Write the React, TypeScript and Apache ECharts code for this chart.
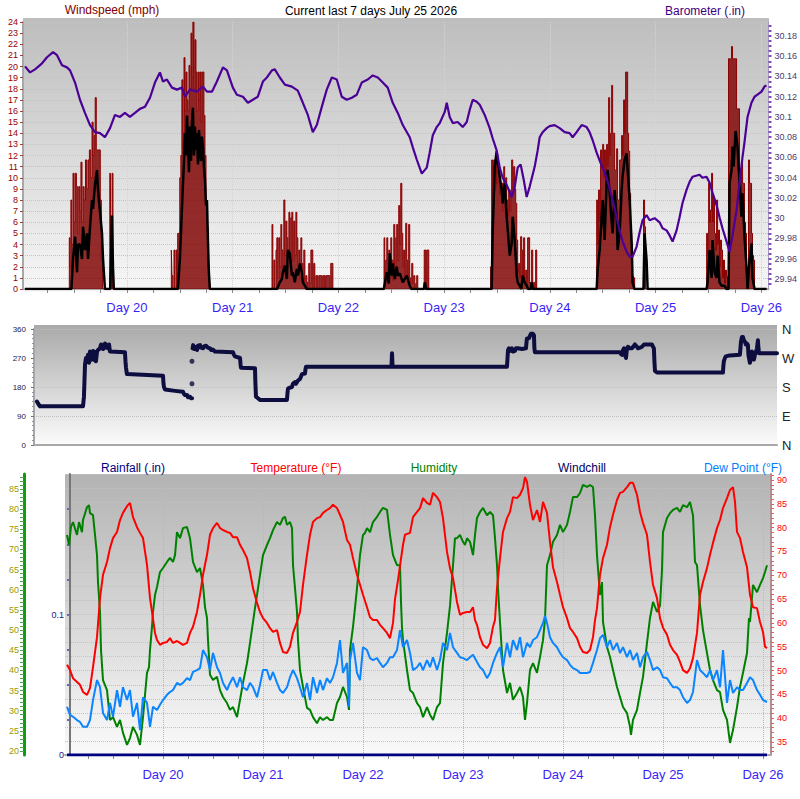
import React, { useEffect, useRef } from "react";
import * as echarts from "echarts";

// ---------- tick / label values ----------
const DAY_LABELS = [20, 21, 22, 23, 24, 25, 26];
const WIND_MIN = 0;
const WIND_MAX = 24;
const BARO_LABELS = [29.94, 29.96, 29.98, 30.0, 30.02, 30.04, 30.06, 30.08, 30.1, 30.12, 30.14, 30.16, 30.18];
const DIR_LABELS: Record<number, string> = { 0: "N", 90: "E", 180: "S", 270: "W", 360: "N" };
const RAIN_LABELS = [0, 0.1];
const RAIN_TICKS = [0, 0.025, 0.05, 0.075, 0.1, 0.125, 0.15, 0.175];
const HUM_LABELS = [20, 25, 30, 35, 40, 45, 50, 55, 60, 65, 70, 75, 80, 85];
const TEMP_LABELS = [35, 40, 45, 50, 55, 60, 65, 70, 75, 80, 85, 90];

const seq = (a: number, b: number, s: number) => {
  const r: number[] = [];
  for (let v = a; v <= b + 1e-9; v += s) r.push(+v.toFixed(4));
  return r;
};
const QUARTER_TICKS = seq(19.25, 26, 0.25);
const BARO_TICKS = seq(29.935, 30.19, 0.005);
const HUM_TICKS = seq(19, 88, 1);
const TEMP_TICKS = seq(33, 91, 1);

// ---------- data: [day, value] ----------
const windGust: [number, number][] = [
  [19.036, 0],
  [19.455, 0], [19.462, 4.6], [19.47, 2], [19.478, 8], [19.49, 4], [19.5, 10.4], [19.512, 6], [19.522, 10.4], [19.535, 9.2], [19.545, 5], [19.555, 9.2], [19.565, 7], [19.575, 11.4], [19.585, 6], [19.595, 9.2], [19.608, 8], [19.62, 11.6], [19.632, 9], [19.645, 11.6], [19.658, 12.5], [19.67, 10], [19.68, 15], [19.69, 12], [19.7, 13.8], [19.71, 17.2], [19.72, 12.5], [19.735, 12.5], [19.748, 12.5], [19.758, 8], [19.77, 2.6], [19.78, 0],
  [19.838, 0], [19.845, 10.4], [19.86, 4], [19.868, 10.4], [19.878, 0],
  [20.42, 0], [20.426, 3.5], [20.435, 1.2], [20.445, 0], [20.454, 3.5], [20.465, 0], [20.473, 3.5], [20.48, 0], [20.5, 5], [20.51, 10], [20.52, 12], [20.53, 18.8], [20.54, 14], [20.549, 20.8], [20.558, 16], [20.568, 19.5], [20.577, 17], [20.587, 16], [20.596, 20.1], [20.606, 18], [20.615, 23], [20.624, 19], [20.634, 24], [20.643, 18], [20.653, 22.4], [20.662, 19.5], [20.672, 16], [20.681, 19.5], [20.69, 17], [20.7, 19.5], [20.709, 15], [20.719, 19.5], [20.728, 19.5], [20.738, 15.6], [20.748, 12], [20.757, 8], [20.766, 5.6], [20.775, 2], [20.785, 0],
  [21.372, 0], [21.38, 5.8], [21.39, 0], [21.399, 2.6], [21.41, 0], [21.418, 3.5], [21.428, 4.6], [21.437, 1], [21.446, 4.6], [21.456, 2], [21.465, 5.8], [21.475, 3.5], [21.484, 1.5], [21.494, 8], [21.503, 3], [21.513, 6.1], [21.522, 4.6], [21.532, 2], [21.541, 6.9], [21.55, 3], [21.56, 6.4], [21.569, 6.9], [21.578, 2.5], [21.588, 6.1], [21.598, 3], [21.607, 6.9], [21.617, 4.6], [21.626, 1.5], [21.636, 3.5], [21.645, 1], [21.654, 4.6], [21.664, 2.3], [21.673, 0.5], [21.683, 3.5], [21.692, 0], [21.702, 1.2], [21.711, 0.6], [21.72, 0], [21.73, 2.3], [21.74, 0.5], [21.749, 3.5], [21.758, 3.5], [21.767, 0], [21.777, 2.3], [21.787, 0], [21.806, 1.2], [21.815, 0], [21.843, 1.2], [21.852, 0], [21.872, 1.2], [21.88, 0], [21.919, 1.2], [21.928, 0], [21.948, 2.3], [21.957, 0],
  [22.432, 0], [22.439, 4.6], [22.448, 1], [22.458, 2.6], [22.467, 4.6], [22.477, 1.5], [22.486, 3.5], [22.496, 1], [22.505, 4.6], [22.515, 2.6], [22.524, 0.8], [22.534, 5.8], [22.543, 2], [22.552, 4.6], [22.562, 5.8], [22.571, 2.5], [22.581, 7.5], [22.59, 4], [22.6, 9.5], [22.609, 5], [22.618, 2], [22.628, 3.5], [22.637, 1], [22.647, 5.9], [22.656, 2.6], [22.665, 1], [22.675, 5.8], [22.685, 1], [22.694, 0.5], [22.704, 2.3], [22.713, 0.5], [22.723, 1.2], [22.732, 0], [22.741, 0.5], [22.751, 1.2], [22.76, 0], [22.812, 0], [22.817, 3.5], [22.826, 3.5], [22.835, 0], [22.845, 3.5], [22.855, 3.5], [22.864, 0],
  [23.44, 0], [23.45, 2], [23.459, 11.6], [23.469, 8], [23.479, 11.6], [23.488, 9], [23.497, 11.6], [23.507, 9.5], [23.516, 10.7], [23.526, 10.7], [23.535, 8.5], [23.545, 9.5], [23.554, 9.5], [23.564, 7], [23.573, 11], [23.583, 8.5], [23.592, 10], [23.602, 8], [23.611, 6.5], [23.621, 8.9], [23.63, 7], [23.639, 8.9], [23.649, 11.6], [23.658, 9], [23.668, 11], [23.677, 9], [23.687, 7.7], [23.696, 4.4], [23.705, 1.5], [23.715, 2.3], [23.724, 1], [23.734, 4.7], [23.743, 3.5], [23.752, 1], [23.762, 4.6], [23.772, 1], [23.781, 1.7], [23.79, 0], [23.809, 4.6], [23.818, 0.5], [23.828, 0.6], [23.838, 3.5], [23.847, 0], [23.857, 0.6], [23.866, 0], [23.876, 3.5], [23.885, 0],
  [24.443, 0], [24.452, 8], [24.461, 4], [24.471, 8.9], [24.48, 6], [24.49, 12.5], [24.5, 11], [24.509, 13], [24.518, 10], [24.528, 12.5], [24.537, 9], [24.547, 13], [24.556, 11], [24.566, 17.2], [24.575, 12], [24.585, 14], [24.594, 18.3], [24.603, 14], [24.613, 14], [24.622, 10.7], [24.632, 10.7], [24.641, 12.6], [24.65, 8], [24.66, 8], [24.669, 11.6], [24.679, 11.6], [24.688, 13.8], [24.698, 12], [24.707, 17], [24.717, 14], [24.726, 19.5], [24.736, 19.5], [24.745, 14], [24.755, 12.4], [24.764, 8.6], [24.774, 5], [24.783, 0.5], [24.793, 1.1], [24.802, 1], [24.812, 0], [24.886, 0], [24.896, 8], [24.905, 5.6], [24.915, 0],
  [25.483, 0], [25.492, 5], [25.502, 3], [25.511, 9.5], [25.52, 6], [25.53, 7.1], [25.539, 10.4], [25.549, 6], [25.558, 8.3], [25.568, 5], [25.577, 3.5], [25.587, 8], [25.596, 4], [25.605, 5.3], [25.615, 2], [25.624, 4.4], [25.633, 3.5], [25.643, 1], [25.652, 2.6], [25.662, 0.5], [25.671, 1.7], [25.681, 1.1], [25.69, 0], [25.7, 20.7], [25.709, 20.7], [25.719, 20.7], [25.728, 21.8], [25.738, 20.7], [25.747, 20.7], [25.757, 20.7], [25.766, 20.7], [25.775, 16.2], [25.785, 16.2], [25.794, 16.2], [25.804, 9], [25.813, 6.5], [25.823, 11.4], [25.832, 9.5], [25.841, 9.5], [25.851, 6], [25.86, 5], [25.87, 1.1], [25.879, 0], [25.889, 11.6], [25.898, 9.5], [25.908, 9.5], [25.917, 5], [25.927, 3], [25.936, 2.6], [25.945, 0],
  [26.05, 0],
];

const windAvg: [number, number][] = [
  [19.036, 0],
  [19.475, 0], [19.49, 2.7], [19.51, 4.7], [19.528, 1.5], [19.537, 4], [19.556, 4], [19.575, 2.7], [19.585, 5.6], [19.603, 3.5], [19.622, 5], [19.632, 2.7], [19.651, 5.6], [19.67, 8], [19.679, 7.2], [19.698, 9.4], [19.717, 10.7], [19.726, 8.9], [19.745, 7], [19.764, 5], [19.774, 2.7], [19.792, 0],
  [19.842, 0], [19.85, 3], [19.858, 6.6], [19.868, 2], [19.876, 0],
  [20.482, 0], [20.501, 2.7], [20.52, 7.2], [20.53, 9.4], [20.54, 11.6], [20.549, 14], [20.558, 12], [20.568, 15.6], [20.577, 13.4], [20.587, 10.5], [20.596, 14.6], [20.606, 11.5], [20.615, 14.9], [20.624, 16.3], [20.634, 12], [20.643, 14.6], [20.653, 12.5], [20.662, 14], [20.672, 11.2], [20.681, 14.3], [20.69, 13.1], [20.7, 11.5], [20.709, 13.7], [20.719, 12.8], [20.728, 11], [20.738, 9.8], [20.748, 7.5], [20.757, 8], [20.766, 4.4], [20.775, 1.5], [20.785, 0],
  [21.42, 0], [21.446, 0.6], [21.465, 0.9], [21.475, 1.5], [21.494, 2.1], [21.513, 0.9], [21.522, 3.5], [21.541, 3.2], [21.56, 1.2], [21.569, 1.5], [21.588, 0.6], [21.607, 1.8], [21.617, 1.2], [21.636, 2.3], [21.654, 1.5], [21.664, 0.6], [21.683, 0.3], [21.702, 0],
  [22.43, 0], [22.458, 1.5], [22.477, 0.5], [22.486, 3.2], [22.505, 1.2], [22.515, 2.3], [22.534, 0.9], [22.552, 2], [22.562, 1.2], [22.581, 1.4], [22.609, 0.6], [22.647, 1.2], [22.675, 0.3], [22.69, 0], [22.81, 0], [22.817, 0.6], [22.83, 0],
  [23.45, 0], [23.459, 5], [23.469, 8], [23.479, 11], [23.497, 12.4], [23.507, 11.3], [23.526, 10.1], [23.545, 8.9], [23.554, 7.7], [23.573, 9.5], [23.592, 6.5], [23.602, 5.3], [23.621, 3], [23.639, 4.1], [23.649, 6.5], [23.668, 4.4], [23.687, 1.2], [23.696, 0.6], [23.715, 0.3], [23.73, 0], [23.743, 1.2], [23.762, 0.6], [23.781, 0.3], [23.795, 0], [23.82, 0], [23.828, 0.6], [23.838, 0],
  [24.443, 0], [24.452, 1.7], [24.471, 3.5], [24.49, 6.5], [24.5, 8], [24.518, 4.4], [24.537, 9.5], [24.547, 10.7], [24.566, 8.6], [24.585, 6], [24.594, 5], [24.613, 8.9], [24.632, 6.5], [24.641, 3.5], [24.66, 5], [24.679, 8.9], [24.688, 10.1], [24.707, 11.6], [24.726, 12.2], [24.736, 10.7], [24.755, 8], [24.774, 4.1], [24.783, 0.6], [24.8, 0], [24.886, 0], [24.896, 5], [24.915, 2.6], [24.925, 0],
  [25.483, 0], [25.492, 0.6], [25.511, 3.5], [25.53, 1], [25.539, 4.4], [25.558, 1.5], [25.577, 1], [25.587, 3], [25.605, 0.6], [25.624, 0.3], [25.652, 0.3], [25.671, 0], [25.69, 0], [25.7, 9.5], [25.719, 10.7], [25.728, 12.8], [25.738, 11], [25.757, 14.2], [25.775, 12.8], [25.794, 9.5], [25.813, 6.5], [25.823, 8.6], [25.841, 4.7], [25.86, 2], [25.87, 0], [25.889, 2.6], [25.908, 4.1], [25.917, 1], [25.936, 0],
  [26.05, 0],
];

const barometer: [number, number][] = [
  [19.036, 30.15], [19.084, 30.144], [19.131, 30.147], [19.197, 30.153], [19.244, 30.159], [19.301, 30.164], [19.339, 30.161], [19.386, 30.151], [19.433, 30.149], [19.462, 30.146], [19.509, 30.134], [19.556, 30.117], [19.603, 30.104], [19.651, 30.092], [19.698, 30.085], [19.745, 30.084], [19.792, 30.08], [19.84, 30.089], [19.887, 30.102], [19.934, 30.1], [19.981, 30.104], [20.028, 30.1], [20.076, 30.104], [20.123, 30.108], [20.17, 30.11], [20.218, 30.119], [20.265, 30.134], [20.312, 30.144], [20.341, 30.135], [20.378, 30.137], [20.426, 30.129], [20.473, 30.127], [20.52, 30.129], [20.549, 30.12], [20.596, 30.127], [20.662, 30.125], [20.719, 30.13], [20.757, 30.125], [20.804, 30.125], [20.851, 30.135], [20.908, 30.149], [20.946, 30.146], [21.002, 30.129], [21.04, 30.122], [21.097, 30.12], [21.144, 30.114], [21.191, 30.117], [21.238, 30.12], [21.286, 30.135], [21.324, 30.139], [21.371, 30.146], [21.399, 30.147], [21.446, 30.139], [21.494, 30.132], [21.56, 30.13], [21.616, 30.126], [21.664, 30.114], [21.711, 30.102], [21.758, 30.085], [21.796, 30.092], [21.843, 30.11], [21.89, 30.127], [21.938, 30.139], [21.985, 30.137], [22.032, 30.12], [22.079, 30.117], [22.127, 30.119], [22.174, 30.122], [22.221, 30.134], [22.278, 30.137], [22.325, 30.141], [22.373, 30.139], [22.42, 30.134], [22.467, 30.129], [22.514, 30.114], [22.562, 30.104], [22.609, 30.092], [22.675, 30.08], [22.704, 30.07], [22.741, 30.058], [22.789, 30.044], [22.836, 30.05], [22.864, 30.065], [22.893, 30.082], [22.93, 30.09], [22.959, 30.094], [23.006, 30.105], [23.025, 30.114], [23.053, 30.1], [23.082, 30.094], [23.129, 30.095], [23.176, 30.09], [23.214, 30.095], [23.242, 30.107], [23.271, 30.117], [23.308, 30.115], [23.337, 30.112], [23.384, 30.102], [23.431, 30.089], [23.459, 30.079], [23.497, 30.067], [23.526, 30.05], [23.554, 30.04], [23.592, 30.033], [23.639, 30.021], [23.668, 30.031], [23.696, 30.05], [23.724, 30.053], [23.753, 30.038], [23.781, 30.021], [23.809, 30.031], [23.857, 30.051], [23.885, 30.067], [23.904, 30.08], [23.932, 30.085], [23.97, 30.089], [23.998, 30.091], [24.045, 30.092], [24.093, 30.089], [24.14, 30.085], [24.187, 30.084], [24.216, 30.08], [24.253, 30.085], [24.301, 30.092], [24.348, 30.09], [24.376, 30.085], [24.405, 30.077], [24.442, 30.065], [24.471, 30.057], [24.537, 30.04], [24.594, 30.018], [24.632, 30.001], [24.66, 29.988], [24.688, 29.977], [24.726, 29.967], [24.755, 29.962], [24.783, 29.962], [24.821, 29.972], [24.849, 29.986], [24.877, 29.998], [24.915, 30.003], [24.944, 29.998], [24.991, 30.0], [25.038, 29.996], [25.066, 29.99], [25.104, 29.988], [25.133, 29.983], [25.161, 29.977], [25.199, 29.988], [25.227, 30.001], [25.255, 30.015], [25.293, 30.028], [25.322, 30.036], [25.35, 30.041], [25.416, 30.043], [25.444, 30.04], [25.482, 30.041], [25.511, 30.035], [25.539, 30.025], [25.577, 30.013], [25.605, 30.001], [25.633, 29.99], [25.671, 29.977], [25.7, 29.967], [25.728, 29.983], [25.766, 30.008], [25.794, 30.035], [25.822, 30.06], [25.841, 30.075], [25.87, 30.1], [25.907, 30.114], [25.936, 30.12], [25.964, 30.122], [26.002, 30.125], [26.03, 30.13], [26.049, 30.131],
];

const windDir: [number, number | null][] = [
  [19.028, 135], [19.04, 128], [19.057, 120], [19.465, 120], [19.474, 150], [19.484, 250], [19.493, 270], [19.503, 258], [19.512, 280], [19.522, 255], [19.531, 290], [19.541, 270], [19.55, 265], [19.56, 292], [19.569, 290], [19.578, 262], [19.588, 260], [19.598, 290], [19.607, 295], [19.626, 300], [19.636, 312], [19.645, 310], [19.655, 298], [19.664, 300], [19.673, 315], [19.683, 312], [19.693, 302], [19.702, 300], [19.712, 312], [19.721, 290], [19.863, 288], [19.868, 260], [19.873, 240], [19.882, 220], [20.224, 215], [20.229, 190], [20.233, 180], [20.243, 172], [20.338, 168], [20.414, 165], [20.424, 158], [20.433, 155], [20.452, 155], [20.461, 148], [20.48, 150], [20.49, 145], [20.5, 145],
  [20.502, null],
  [20.505, 300], [20.51, 310], [20.52, 298], [20.53, 305], [20.547, 295], [20.556, 308], [20.575, 310], [20.585, 302], [20.604, 300], [20.613, 306], [20.632, 308], [20.651, 302], [20.67, 300], [20.68, 295], [20.698, 296], [20.717, 290], [20.888, 288], [20.897, 280], [20.907, 275], [20.955, 270], [20.96, 250], [20.964, 240], [21.097, 238], [21.1, 200], [21.106, 150], [21.125, 145], [21.144, 140], [21.4, 140], [21.405, 160], [21.41, 175], [21.429, 178], [21.448, 180], [21.457, 190], [21.476, 195], [21.486, 190], [21.505, 200], [21.524, 205], [21.533, 212], [21.543, 220], [21.571, 222], [21.576, 235], [21.581, 243], [22.392, 243], [22.397, 285], [22.402, 243], [23.488, 243], [23.493, 270], [23.498, 295], [23.507, 300], [23.516, 292], [23.535, 300], [23.545, 290], [23.564, 292], [23.573, 300], [23.592, 300], [23.63, 298], [23.668, 300], [23.672, 315], [23.677, 330], [23.696, 332], [23.715, 345], [23.734, 345], [23.744, 340], [23.748, 300], [23.753, 288], [24.56, 288], [24.57, 282], [24.579, 280], [24.589, 295], [24.598, 300], [24.607, 280], [24.617, 270], [24.626, 298], [24.636, 305], [24.655, 300], [24.674, 300], [24.693, 308], [24.702, 312], [24.721, 305], [24.731, 300], [24.75, 302], [24.769, 305], [24.788, 312], [24.797, 312], [24.863, 312], [24.873, 305], [24.882, 300], [24.887, 260], [24.892, 230], [24.911, 225], [25.537, 225], [25.541, 245], [25.546, 260], [25.556, 270], [25.565, 275], [25.6, 278], [25.698, 280], [25.703, 300], [25.708, 320], [25.717, 335], [25.727, 335], [25.736, 325], [25.746, 320], [25.755, 312], [25.765, 315], [25.774, 310], [25.779, 280], [25.793, 255], [25.803, 270], [25.812, 290], [25.822, 278], [25.831, 265], [25.84, 280], [25.85, 290], [25.86, 300], [25.869, 325], [25.874, 300], [25.879, 285], [25.888, 285], [26.05, 285],
];
const windDirDots: [number, number][] = [[20.499, 190], [20.499, 260]];

const rainfall: [number, number][] = [[19.04, 0], [26.04, 0]];

const temperature: [number, number][] = [
  [19.04, 51.2], [19.07, 50.1], [19.1, 48.4], [19.14, 47.6], [19.17, 47.0], [19.2, 45.5], [19.24, 44.9], [19.27, 46.3], [19.3, 50.7], [19.34, 57.0], [19.37, 65.2], [19.4, 70.1], [19.44, 72.8], [19.47, 75.7], [19.5, 77.8], [19.54, 79.1], [19.57, 81.6], [19.6, 83.1], [19.64, 84.5], [19.67, 85.2], [19.7, 82.2], [19.74, 80.1], [19.77, 78.9], [19.8, 77.8], [19.84, 72.2], [19.87, 65.2], [19.89, 62.3], [19.92, 57.9], [19.94, 56.4], [19.97, 55.4], [20.0, 55.8], [20.04, 56.0], [20.07, 56.8], [20.1, 55.8], [20.14, 56.2], [20.17, 55.8], [20.2, 55.4], [20.24, 55.8], [20.27, 57.9], [20.3, 59.2], [20.34, 62.3], [20.37, 65.9], [20.4, 70.1], [20.44, 74.3], [20.47, 78.5], [20.5, 79.9], [20.54, 81.0], [20.57, 79.9], [20.6, 79.5], [20.64, 79.1], [20.67, 78.9], [20.7, 78.0], [20.74, 78.0], [20.77, 76.4], [20.8, 75.3], [20.84, 73.6], [20.87, 70.7], [20.9, 67.3], [20.94, 64.2], [20.97, 62.3], [21.0, 61.0], [21.04, 60.0], [21.07, 58.9], [21.1, 58.1], [21.14, 58.5], [21.17, 55.8], [21.2, 53.9], [21.24, 53.7], [21.27, 55.0], [21.3, 57.9], [21.34, 60.2], [21.37, 62.3], [21.4, 68.0], [21.44, 74.3], [21.47, 78.5], [21.5, 81.2], [21.54, 82.0], [21.57, 82.2], [21.6, 83.1], [21.64, 83.7], [21.67, 84.1], [21.7, 84.8], [21.74, 84.1], [21.77, 82.7], [21.8, 81.2], [21.84, 77.4], [21.87, 76.4], [21.9, 73.6], [21.94, 70.1], [21.97, 68.0], [22.0, 65.9], [22.04, 63.3], [22.07, 61.2], [22.1, 60.6], [22.14, 60.6], [22.17, 59.6], [22.2, 58.9], [22.24, 57.9], [22.27, 56.8], [22.3, 60.0], [22.32, 65.0], [22.35, 69.0], [22.37, 72.0], [22.4, 76.4], [22.42, 78.5], [22.47, 78.9], [22.5, 82.2], [22.54, 83.3], [22.57, 84.1], [22.6, 86.2], [22.64, 85.2], [22.67, 84.8], [22.7, 87.3], [22.74, 86.4], [22.77, 85.4], [22.8, 82.0], [22.84, 74.9], [22.87, 71.5], [22.9, 69.4], [22.94, 64.4], [22.97, 61.7], [23.0, 62.1], [23.04, 62.3], [23.07, 62.3], [23.1, 63.3], [23.12, 60.6], [23.14, 59.6], [23.17, 57.0], [23.2, 55.4], [23.24, 54.7], [23.27, 55.8], [23.3, 59.2], [23.32, 60.6], [23.34, 67.3], [23.37, 73.6], [23.4, 79.1], [23.44, 82.0], [23.47, 83.3], [23.5, 86.4], [23.54, 86.2], [23.57, 86.9], [23.6, 88.3], [23.62, 90.6], [23.64, 89.6], [23.67, 84.8], [23.7, 81.6], [23.74, 83.7], [23.77, 81.2], [23.8, 85.4], [23.84, 83.1], [23.87, 77.0], [23.9, 71.7], [23.94, 68.6], [23.97, 65.9], [24.0, 63.3], [24.04, 61.0], [24.07, 58.9], [24.1, 58.1], [24.14, 56.8], [24.17, 55.0], [24.2, 53.9], [24.24, 53.7], [24.27, 54.3], [24.3, 57.0], [24.32, 60.6], [24.34, 63.1], [24.37, 70.1], [24.4, 73.6], [24.44, 76.4], [24.47, 80.1], [24.5, 82.7], [24.54, 85.8], [24.57, 87.3], [24.6, 87.5], [24.64, 88.5], [24.67, 89.4], [24.7, 89.4], [24.74, 86.9], [24.77, 83.3], [24.8, 81.0], [24.84, 78.5], [24.87, 72.8], [24.9, 68.0], [24.94, 65.2], [24.97, 61.0], [25.0, 59.0], [25.04, 57.5], [25.07, 55.4], [25.1, 54.3], [25.14, 53.3], [25.17, 51.8], [25.2, 50.1], [25.24, 49.5], [25.27, 50.5], [25.3, 52.6], [25.34, 57.9], [25.37, 65.9], [25.4, 68.6], [25.44, 71.5], [25.47, 74.3], [25.5, 76.8], [25.54, 79.9], [25.57, 81.6], [25.6, 84.1], [25.64, 86.2], [25.67, 87.9], [25.7, 88.5], [25.72, 85.4], [25.74, 79.1], [25.77, 77.8], [25.8, 74.9], [25.84, 71.7], [25.87, 65.9], [25.9, 63.3], [25.94, 63.1], [25.97, 60.2], [26.0, 58.1], [26.02, 55.0], [26.04, 54.7],
];

const humidity: [number, number][] = [
  [19.04, 73.6], [19.06, 71.1], [19.08, 75.6], [19.1, 76.8], [19.14, 73.6], [19.16, 76.8], [19.19, 74.3], [19.2, 77.3], [19.24, 80.5], [19.26, 81.0], [19.27, 79.0], [19.3, 78.5], [19.32, 73.6], [19.34, 68.6], [19.35, 61.9], [19.37, 54.5], [19.38, 45.1], [19.4, 37.6], [19.44, 35.1], [19.47, 27.7], [19.5, 28.4], [19.54, 26.0], [19.57, 27.7], [19.6, 24.5], [19.64, 21.5], [19.67, 23.2], [19.7, 26.0], [19.74, 24.0], [19.77, 21.5], [19.8, 28.4], [19.84, 39.4], [19.86, 40.8], [19.87, 45.1], [19.89, 50.8], [19.9, 54.5], [19.92, 58.7], [19.94, 60.7], [19.97, 64.4], [20.0, 65.4], [20.04, 66.9], [20.07, 67.9], [20.1, 66.9], [20.12, 68.6], [20.14, 74.3], [20.17, 72.8], [20.2, 75.3], [20.24, 75.6], [20.27, 72.8], [20.3, 66.9], [20.34, 64.4], [20.37, 65.4], [20.4, 61.2], [20.42, 55.7], [20.44, 53.0], [20.45, 47.5], [20.47, 38.9], [20.5, 37.6], [20.54, 38.4], [20.57, 35.1], [20.6, 33.4], [20.64, 31.9], [20.67, 30.2], [20.7, 30.9], [20.74, 28.4], [20.77, 32.7], [20.8, 36.9], [20.84, 41.8], [20.87, 46.8], [20.9, 52.0], [20.92, 55.5], [20.94, 58.7], [20.97, 63.7], [21.0, 68.6], [21.04, 71.1], [21.07, 72.8], [21.1, 74.8], [21.14, 76.8], [21.17, 76.1], [21.2, 77.8], [21.22, 78.1], [21.24, 76.1], [21.27, 76.8], [21.29, 75.3], [21.3, 66.1], [21.32, 60.4], [21.34, 54.5], [21.35, 47.5], [21.37, 40.1], [21.4, 35.9], [21.44, 30.7], [21.47, 30.2], [21.5, 28.4], [21.54, 26.9], [21.57, 28.4], [21.6, 27.7], [21.64, 28.4], [21.67, 27.7], [21.7, 27.7], [21.74, 31.9], [21.77, 33.4], [21.8, 35.9], [21.84, 33.4], [21.86, 30.2], [21.87, 45.1], [21.9, 50.8], [21.92, 55.5], [21.94, 60.4], [21.97, 68.6], [22.0, 73.6], [22.02, 74.1], [22.04, 75.3], [22.07, 74.3], [22.1, 76.8], [22.14, 78.1], [22.17, 79.3], [22.2, 80.3], [22.24, 79.8], [22.27, 73.6], [22.3, 68.6], [22.34, 66.1], [22.37, 66.1], [22.38, 57.0], [22.39, 50.5], [22.4, 47.5], [22.44, 40.1], [22.47, 35.1], [22.5, 34.4], [22.54, 31.9], [22.57, 30.9], [22.6, 28.4], [22.64, 30.9], [22.67, 29.0], [22.7, 27.7], [22.74, 30.9], [22.77, 31.9], [22.8, 41.8], [22.84, 49.3], [22.87, 56.0], [22.9, 66.1], [22.92, 72.8], [22.94, 72.8], [22.97, 73.6], [23.0, 71.9], [23.02, 71.1], [23.04, 72.8], [23.07, 71.9], [23.1, 68.6], [23.12, 73.6], [23.14, 77.8], [23.17, 79.3], [23.2, 80.3], [23.24, 78.5], [23.27, 79.3], [23.3, 78.5], [23.32, 72.8], [23.34, 66.1], [23.35, 60.4], [23.37, 52.0], [23.4, 40.1], [23.44, 34.4], [23.47, 36.9], [23.5, 32.7], [23.54, 34.4], [23.57, 35.9], [23.6, 33.4], [23.62, 27.7], [23.64, 31.9], [23.67, 40.1], [23.7, 41.8], [23.74, 39.4], [23.77, 43.3], [23.8, 47.5], [23.82, 52.7], [23.84, 66.1], [23.87, 68.6], [23.9, 71.9], [23.94, 73.6], [23.97, 76.1], [24.0, 74.3], [24.04, 76.1], [24.07, 79.3], [24.1, 83.0], [24.14, 83.0], [24.17, 84.0], [24.2, 86.0], [24.24, 85.5], [24.27, 86.0], [24.3, 85.5], [24.32, 78.5], [24.34, 68.6], [24.37, 58.7], [24.39, 61.9], [24.4, 52.0], [24.44, 45.8], [24.47, 43.3], [24.5, 40.1], [24.54, 35.9], [24.57, 33.4], [24.6, 30.9], [24.64, 29.4], [24.67, 26.0], [24.68, 24.0], [24.7, 27.7], [24.74, 30.2], [24.77, 34.4], [24.8, 38.4], [24.84, 46.8], [24.87, 53.0], [24.9, 57.0], [24.94, 54.5], [24.97, 56.0], [24.99, 65.0], [25.0, 74.3], [25.04, 77.8], [25.07, 79.0], [25.1, 79.8], [25.14, 80.3], [25.17, 79.3], [25.2, 81.0], [25.24, 80.5], [25.27, 81.8], [25.3, 78.5], [25.32, 66.9], [25.34, 66.1], [25.37, 56.2], [25.4, 50.0], [25.44, 44.3], [25.47, 40.1], [25.5, 37.6], [25.54, 35.1], [25.57, 34.6], [25.6, 30.2], [25.64, 27.7], [25.67, 22.0], [25.7, 25.2], [25.74, 30.9], [25.77, 35.9], [25.8, 39.4], [25.84, 44.3], [25.86, 53.0], [25.87, 52.0], [25.9, 61.2], [25.94, 59.4], [25.97, 61.2], [26.0, 62.9], [26.02, 64.4], [26.04, 66.1],
];

const dewPoint: [number, number][] = [
  [19.04, 42.4], [19.07, 40.7], [19.1, 40.3], [19.14, 39.6], [19.17, 39.2], [19.2, 38.2], [19.24, 38.2], [19.27, 39.6], [19.3, 43.8], [19.34, 48.0], [19.37, 46.5], [19.4, 41.1], [19.44, 39.6], [19.47, 43.2], [19.5, 40.3], [19.54, 45.9], [19.57, 42.4], [19.6, 46.5], [19.64, 43.8], [19.67, 45.9], [19.7, 40.3], [19.74, 43.2], [19.77, 37.5], [19.8, 44.4], [19.84, 43.2], [19.87, 38.2], [19.9, 42.4], [19.94, 41.7], [19.97, 42.8], [20.0, 43.8], [20.04, 44.9], [20.07, 45.5], [20.1, 45.9], [20.14, 47.4], [20.17, 47.0], [20.2, 47.4], [20.24, 48.4], [20.27, 48.0], [20.3, 49.7], [20.34, 50.1], [20.37, 50.5], [20.4, 54.3], [20.44, 52.8], [20.47, 50.1], [20.5, 53.7], [20.54, 50.7], [20.57, 49.5], [20.6, 47.4], [20.64, 45.9], [20.67, 47.4], [20.7, 48.6], [20.74, 46.5], [20.77, 48.6], [20.8, 46.5], [20.84, 45.9], [20.87, 47.4], [20.9, 46.5], [20.94, 44.4], [20.97, 47.0], [21.0, 50.1], [21.04, 50.1], [21.07, 48.0], [21.1, 49.7], [21.14, 47.4], [21.17, 45.9], [21.2, 45.3], [21.24, 46.5], [21.27, 48.6], [21.3, 50.1], [21.34, 48.4], [21.37, 46.5], [21.4, 44.4], [21.44, 47.4], [21.47, 43.8], [21.5, 48.6], [21.54, 45.3], [21.57, 48.0], [21.6, 45.9], [21.64, 48.4], [21.67, 47.4], [21.7, 48.6], [21.74, 51.6], [21.77, 56.4], [21.8, 49.5], [21.84, 51.6], [21.86, 42.4], [21.87, 52.2], [21.9, 55.8], [21.94, 49.5], [21.97, 48.0], [22.0, 54.9], [22.04, 54.3], [22.07, 52.6], [22.1, 52.2], [22.14, 52.6], [22.17, 51.6], [22.2, 50.7], [22.24, 51.6], [22.27, 52.8], [22.3, 52.8], [22.34, 54.3], [22.37, 58.5], [22.4, 54.9], [22.44, 56.4], [22.47, 53.7], [22.5, 50.1], [22.54, 50.7], [22.57, 51.6], [22.6, 50.1], [22.64, 52.2], [22.67, 50.7], [22.7, 52.8], [22.74, 50.1], [22.77, 52.2], [22.8, 55.8], [22.84, 54.3], [22.87, 57.9], [22.9, 54.9], [22.94, 53.7], [22.97, 52.8], [23.0, 52.6], [23.04, 52.2], [23.07, 52.8], [23.1, 53.3], [23.14, 51.8], [23.17, 50.7], [23.2, 50.1], [23.24, 48.4], [23.27, 49.5], [23.3, 51.6], [23.34, 53.7], [23.37, 54.9], [23.4, 50.7], [23.44, 55.8], [23.47, 52.8], [23.5, 56.4], [23.54, 54.3], [23.57, 57.0], [23.6, 52.8], [23.64, 55.8], [23.67, 54.9], [23.7, 56.4], [23.74, 57.0], [23.77, 58.5], [23.8, 60.0], [23.82, 61.5], [23.84, 60.0], [23.87, 57.0], [23.9, 55.8], [23.94, 54.9], [23.97, 53.7], [24.0, 52.8], [24.04, 52.2], [24.07, 51.2], [24.1, 50.5], [24.14, 50.1], [24.17, 49.5], [24.2, 49.5], [24.24, 49.5], [24.27, 49.7], [24.3, 51.6], [24.34, 54.3], [24.37, 56.8], [24.4, 57.5], [24.44, 54.9], [24.47, 56.4], [24.5, 54.3], [24.54, 55.8], [24.57, 53.7], [24.6, 54.9], [24.64, 52.8], [24.67, 54.3], [24.7, 52.2], [24.74, 53.7], [24.77, 50.7], [24.8, 52.8], [24.84, 53.9], [24.87, 52.2], [24.9, 50.1], [24.94, 50.7], [24.97, 50.1], [25.0, 48.6], [25.04, 48.4], [25.07, 47.4], [25.1, 46.5], [25.14, 46.5], [25.17, 45.9], [25.2, 44.4], [25.24, 43.2], [25.27, 43.8], [25.3, 45.5], [25.34, 52.2], [25.37, 50.1], [25.4, 49.5], [25.44, 48.6], [25.47, 50.1], [25.5, 48.0], [25.54, 50.1], [25.57, 46.5], [25.6, 54.3], [25.64, 43.2], [25.67, 48.0], [25.7, 45.3], [25.74, 46.5], [25.77, 45.9], [25.8, 45.9], [25.84, 47.4], [25.87, 48.6], [25.9, 48.0], [25.94, 45.9], [25.97, 44.9], [26.0, 43.8], [26.04, 43.4],
];

const FONT = "'Liberation Sans', Arial, Helvetica, sans-serif";

const grad = (c1: string, c2: string) =>
  new echarts.graphic.LinearGradient(0, 0, 0, 1, [
    { offset: 0, color: c1 },
    { offset: 1, color: c2 },
  ]);

const title = (text: string, x: number, y: number, fill: string) => ({
  type: "text",
  x,
  y,
  z: 10,
  silent: true,
  style: { text, fill, font: `12px ${FONT}`, align: "center", verticalAlign: "middle" },
});

const dayMarkLine = (color: string) => ({
  silent: true,
  z: 0,
  symbol: ["none", "none"],
  label: { show: false },
  lineStyle: { color, type: "dotted", width: 1 },
  data: DAY_LABELS.map((d) => ({ xAxis: d })),
});

function buildOption(): any {
  return {
    animation: false,
    backgroundColor: "#ffffff",
    textStyle: { fontFamily: FONT },
    graphic: [
      { type: "rect", z: -10, silent: true, shape: { x: 23, y: 18, width: 746, height: 274 }, style: { fill: grad("#bdbdbd", "#f7f7f7") } },
      { type: "rect", z: -10, silent: true, shape: { x: 34, y: 325, width: 743, height: 122 }, style: { fill: grad("#a9a9a9", "#fdfdfd") } },
      { type: "rect", z: -10, silent: true, shape: { x: 65, y: 474, width: 706, height: 286 }, style: { fill: grad("#b3b3b3", "#fbfbfb") } },
      title("Windspeed (mph)", 112, 10, "#800000"),
      title("Current last 7 days July 25 2026", 371, 11, "#000000"),
      title("Barometer (.in)", 705, 11, "#400080"),
      title("Rainfall (.in)", 133, 468, "#000080"),
      title("Temperature (°F)", 296, 468, "#ff0000"),
      title("Humidity", 434, 468, "#008000"),
      title("Windchill", 582, 468, "#000060"),
      title("Dew Point (°F)", 743, 468, "#0080ff"),
    ],
    grid: [
      { left: 23, right: 31, top: 22, height: 267 },
      { left: 34, right: 23, top: 329, height: 116 },
      { left: 65, right: 29, top: 474, height: 281 },
    ],
    xAxis: [
      {
        type: "value", gridIndex: 0, min: 19.017, max: 26.068, offset: 3,
        axisLine: { lineStyle: { color: "#a8a8a8", width: 2 } },
        axisTick: { customValues: QUARTER_TICKS, length: 4, lineStyle: { color: "#8a8a8a" } },
        axisLabel: { customValues: DAY_LABELS, formatter: (v: number) => `Day ${v}`, color: "#3b1ef5", fontSize: 13, margin: 9 },
        splitLine: { show: false },
      },
      {
        type: "value", gridIndex: 1, min: 19.0, max: 26.05, offset: 1,
        axisLine: { lineStyle: { color: "#a8a8a8", width: 2 } },
        axisTick: { show: false }, axisLabel: { show: false }, splitLine: { show: false },
      },
      {
        type: "value", gridIndex: 2, min: 19.02, max: 26.08, offset: 5,
        axisLine: { lineStyle: { color: "#a8a8a8", width: 2 } },
        axisTick: { customValues: QUARTER_TICKS, length: 4, lineStyle: { color: "#8a8a8a" } },
        axisLabel: { customValues: DAY_LABELS, formatter: (v: number) => `Day ${v}`, color: "#3b1ef5", fontSize: 13, margin: 8 },
        splitLine: { show: false },
      },
    ],
    yAxis: [
      {
        type: "value", gridIndex: 0, position: "left", min: WIND_MIN, max: WIND_MAX, interval: 1,
        axisLine: { show: true, lineStyle: { color: "#a8a8a8", width: 2 } },
        axisTick: { show: true, length: 3, lineStyle: { color: "#a04040" } },
        axisLabel: { color: "#990000", fontSize: 9, margin: 5 },
        splitLine: { show: true, lineStyle: { color: "#c4c4c4", type: "dotted" } },
      },
      {
        type: "value", gridIndex: 0, position: "right", min: 29.9301, max: 30.1938,
        axisLine: { show: true, lineStyle: { color: "#a89cc0", width: 1 } },
        axisTick: { show: true, customValues: BARO_TICKS, length: 3, lineStyle: { color: "#8050c0", width: 2 } },
        axisLabel: { customValues: BARO_LABELS, formatter: (v: number) => String(parseFloat(v.toFixed(2))), color: "#4a3a6a", fontSize: 9, margin: 6 },
        splitLine: { show: false },
      },
      {
        type: "value", gridIndex: 1, position: "left", min: 0, max: 360, interval: 90,
        axisLine: { show: true, lineStyle: { color: "#a8a8a8", width: 2 } },
        axisTick: { show: true, length: 3, lineStyle: { color: "#707090" } },
        minorTick: { show: true, splitNumber: 6, length: 2, lineStyle: { color: "#9090a8" } },
        axisLabel: { color: "#202050", fontSize: 8, margin: 8 },
        splitLine: { show: true, lineStyle: { color: "#c0c0c0", type: "dotted" } },
      },
      {
        type: "value", gridIndex: 1, position: "right", min: 0, max: 360, interval: 90,
        axisLine: { show: false }, axisTick: { show: false }, splitLine: { show: false },
        axisLabel: { formatter: (v: number) => DIR_LABELS[v] ?? "", color: "#222222", fontSize: 13, margin: 5 },
      },
      {
        type: "value", gridIndex: 2, position: "left", min: 0, max: 0.2, offset: -5,
        axisLine: { show: true, lineStyle: { color: "#777777", width: 2 } },
        axisTick: { show: true, customValues: RAIN_TICKS, length: 3, lineStyle: { color: "#6a6ab0", width: 2 } },
        axisLabel: { customValues: RAIN_LABELS, formatter: (v: number) => String(v), color: "#202080", fontSize: 9, margin: 6 },
        splitLine: { show: false },
      },
      {
        type: "value", gridIndex: 2, position: "left", min: 0, max: 0.2, interval: 0.01,
        axisLine: { show: false }, axisTick: { show: false }, axisLabel: { show: false },
        splitLine: { show: true, lineStyle: { color: "#c2c2c2", type: "dotted" } },
      },
      {
        type: "value", gridIndex: 2, position: "left", offset: 41, min: 19.01, max: 88.72,
        axisLine: { show: true, lineStyle: { color: "#119911", width: 3 } },
        axisTick: { show: true, customValues: HUM_TICKS, length: 4, lineStyle: { color: "#44aa44" } },
        axisLabel: { customValues: HUM_LABELS, color: "#9a9a00", fontSize: 9, margin: 5 },
        splitLine: { show: false },
      },
      {
        type: "value", gridIndex: 2, position: "right", min: 32.27, max: 91.26,
        axisLine: { show: true, lineStyle: { color: "#b09090", width: 2 } },
        axisTick: { show: true, customValues: TEMP_TICKS, length: 3, lineStyle: { color: "#e06060" } },
        axisLabel: { customValues: TEMP_LABELS, color: "#ff0000", fontSize: 9, margin: 6 },
        splitLine: { show: false },
      },
    ],
    series: [
      {
        name: "Wind gust", type: "line", xAxisIndex: 0, yAxisIndex: 0, data: windGust,
        step: "start", symbol: "none", z: 1,
        lineStyle: { color: "#8b0000", width: 1 },
        areaStyle: { color: "#800000", opacity: 0.82 },
        markLine: dayMarkLine("#d4d4d4"),
      },
      {
        name: "Wind speed", type: "line", xAxisIndex: 0, yAxisIndex: 0, data: windAvg,
        symbol: "none", z: 3, lineStyle: { color: "#000000", width: 2.5 },
      },
      {
        name: "Barometer", type: "line", xAxisIndex: 0, yAxisIndex: 1, data: barometer,
        symbol: "none", z: 4, lineStyle: { color: "#4b0096", width: 2.2 },
      },
      {
        name: "Wind direction", type: "line", xAxisIndex: 1, yAxisIndex: 2, data: windDir,
        symbol: "none", connectNulls: false, z: 3,
        lineStyle: { color: "#0d0d40", width: 4, cap: "round", join: "round" },
      },
      {
        name: "Wind direction dots", type: "scatter", xAxisIndex: 1, yAxisIndex: 2, data: windDirDots,
        symbolSize: 5, itemStyle: { color: "#0d0d40" }, z: 3,
      },
      {
        name: "Rainfall", type: "line", xAxisIndex: 2, yAxisIndex: 4, data: rainfall,
        symbol: "none", z: 1, lineStyle: { color: "#000080", width: 3 },
        markLine: dayMarkLine("#b8b8b8"),
      },
      {
        name: "Humidity", type: "line", xAxisIndex: 2, yAxisIndex: 6, data: humidity,
        symbol: "none", z: 3, lineStyle: { color: "#008000", width: 2 },
      },
      {
        name: "Dew Point", type: "line", xAxisIndex: 2, yAxisIndex: 7, data: dewPoint,
        symbol: "none", z: 4, lineStyle: { color: "#0a84ff", width: 2 },
      },
      {
        name: "Temperature", type: "line", xAxisIndex: 2, yAxisIndex: 7, data: temperature,
        symbol: "none", z: 5, lineStyle: { color: "#ff0000", width: 2 },
      },
    ],
  };
}

export default function App() {
  const ref = useRef<HTMLDivElement>(null);
  useEffect(() => {
    if (!ref.current) return;
    const chart = echarts.init(ref.current, null, { renderer: "svg" });
    chart.setOption(buildOption());
    return () => chart.dispose();
  }, []);
  return (
    <div
      ref={ref}
      style={{ position: "absolute", left: 0, top: 0, width: 800, height: 799, background: "#ffffff" }}
    />
  );
}
